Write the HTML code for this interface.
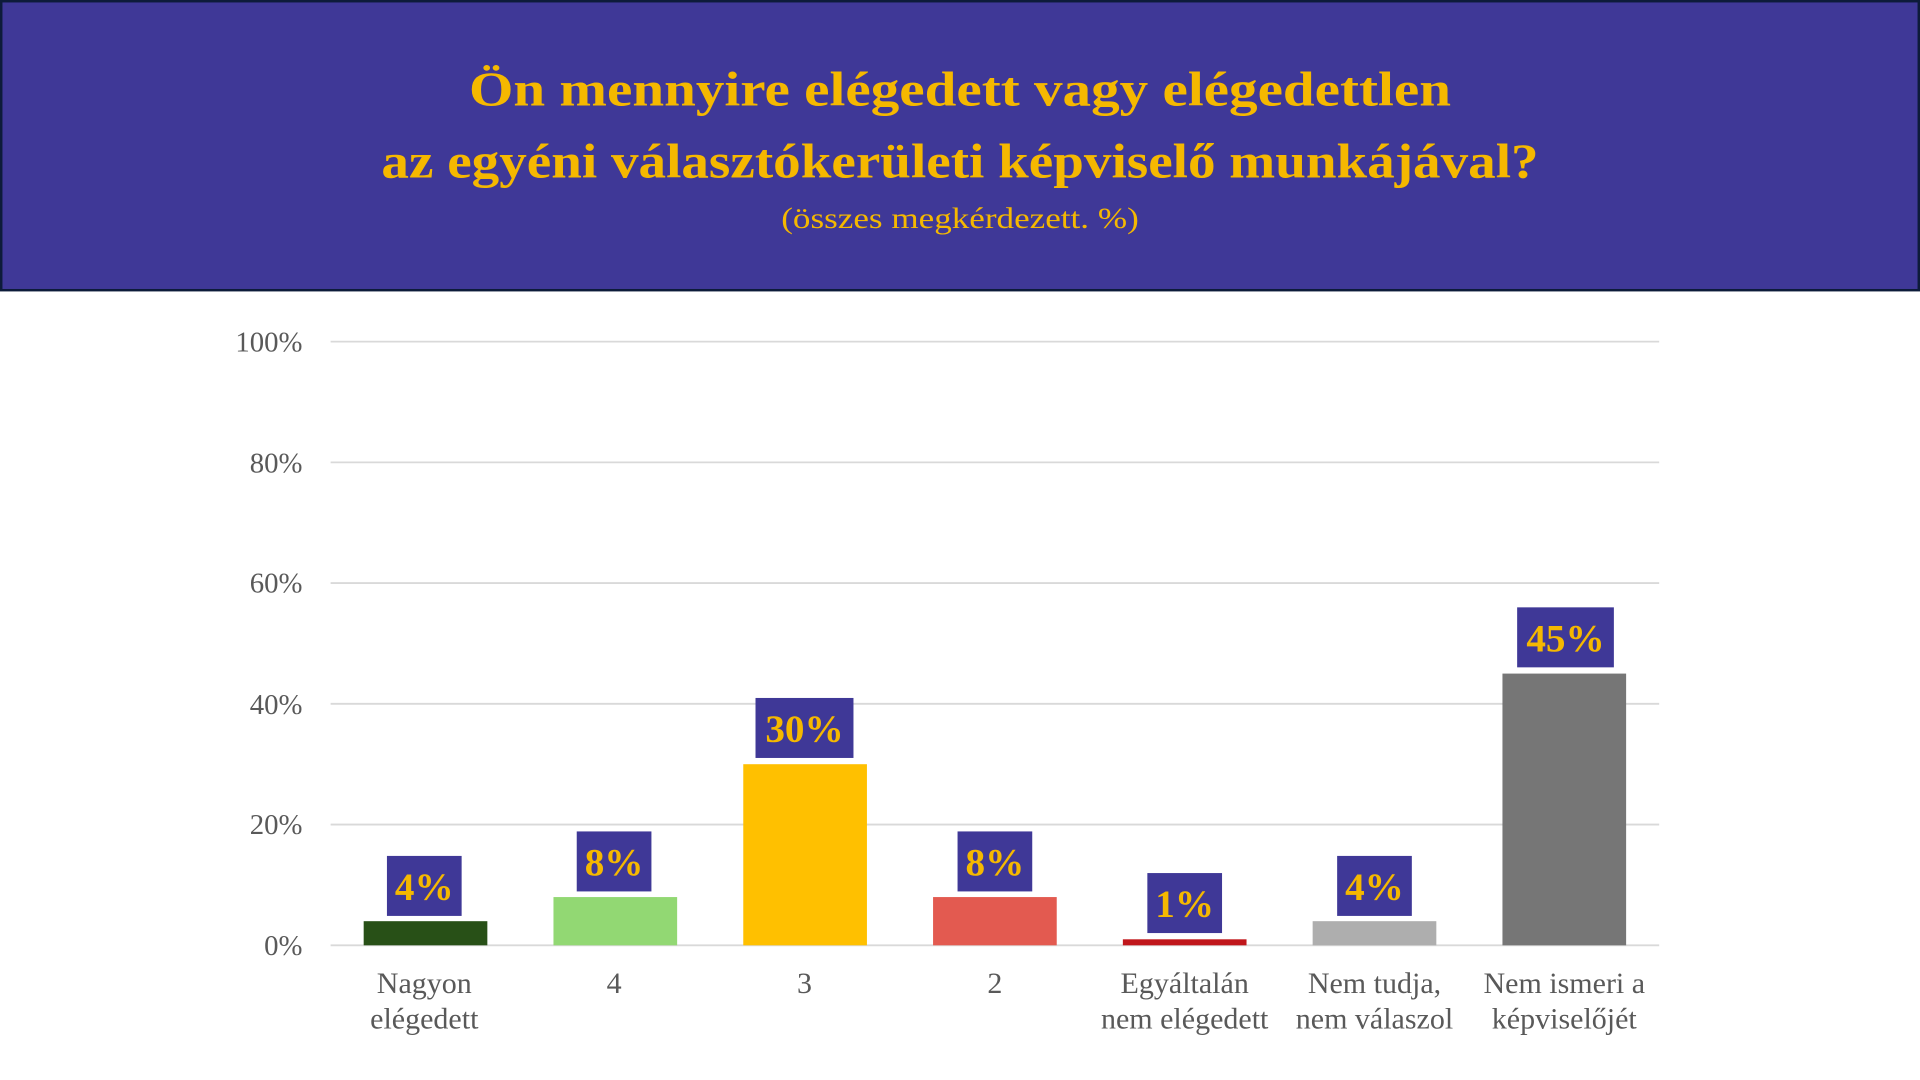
<!DOCTYPE html>
<html><head><meta charset="utf-8"><style>html,body{margin:0;padding:0;background:#fff;}svg{display:block}</style></head>
<body>
<svg width="1920" height="1080" viewBox="0 0 1568 882" xmlns="http://www.w3.org/2000/svg" font-family="'Liberation Serif', serif">
<rect x="0" y="0" width="1568" height="238" fill="#0d1b3a"/>
<rect x="2" y="2" width="1564" height="234" fill="#3f3897"/>
<text x="784" y="86" text-anchor="middle" font-size="40" font-weight="bold" fill="#f5b800" textLength="802" lengthAdjust="spacingAndGlyphs">Ön mennyire elégedett vagy elégedettlen</text>
<text x="784" y="145" text-anchor="middle" font-size="40" font-weight="bold" fill="#f5b800" textLength="945" lengthAdjust="spacingAndGlyphs">az egyéni választókerületi képviselő munkájával?</text>
<text x="784" y="186" text-anchor="middle" font-size="24" fill="#f5b800" textLength="292" lengthAdjust="spacingAndGlyphs">(összes megkérdezett. %)</text>
<g stroke="#d9d9d9" stroke-width="1.5">
<line x1="270" y1="279" x2="1355" y2="279"/>
<line x1="270" y1="377.6" x2="1355" y2="377.6"/>
<line x1="270" y1="476.2" x2="1355" y2="476.2"/>
<line x1="270" y1="574.8" x2="1355" y2="574.8"/>
<line x1="270" y1="673.4" x2="1355" y2="673.4"/>
<line x1="270" y1="772" x2="1355" y2="772"/>
</g>
<g font-size="23.5" fill="#595959" text-anchor="end">
<text x="247" y="287">100%</text>
<text x="247" y="386">80%</text>
<text x="247" y="484">60%</text>
<text x="247" y="583">40%</text>
<text x="247" y="681">20%</text>
<text x="247" y="780">0%</text>
</g>
<rect x="297" y="752.3" width="101" height="19.7" fill="#285017"/>
<rect x="452" y="732.6" width="101" height="39.4" fill="#92d873"/>
<rect x="607" y="624.1" width="101" height="147.9" fill="#ffc000"/>
<rect x="762" y="732.6" width="101" height="39.4" fill="#e35a50"/>
<rect x="917" y="767.1" width="101" height="4.9" fill="#c0161b"/>
<rect x="1072" y="752.3" width="101" height="19.7" fill="#aeaeae"/>
<rect x="1227" y="550.1" width="101" height="221.9" fill="#767676"/>
<g fill="#3f3897">
<rect x="316" y="699" width="61" height="49"/>
<rect x="471" y="679" width="61" height="49"/>
<rect x="617" y="570" width="80" height="49"/>
<rect x="782" y="679" width="61" height="49"/>
<rect x="937" y="713" width="61" height="49"/>
<rect x="1092" y="699" width="61" height="49"/>
<rect x="1239" y="496" width="79" height="49"/>
</g>
<g font-size="32" font-weight="bold" fill="#f5b800" text-anchor="middle">
<text x="346.5" y="735">4%</text>
<text x="501.5" y="715">8%</text>
<text x="657" y="606">30%</text>
<text x="812.5" y="715">8%</text>
<text x="967.5" y="749">1%</text>
<text x="1122.5" y="735">4%</text>
<text x="1278.5" y="532">45%</text>
</g>
<g font-size="24.5" fill="#595959" text-anchor="middle">
<text x="346.5" y="811">Nagyon</text><text x="346.5" y="840">elégedett</text>
<text x="501.5" y="811">4</text>
<text x="657" y="811">3</text>
<text x="812.5" y="811">2</text>
<text x="967.5" y="811">Egyáltalán</text><text x="967.5" y="840">nem elégedett</text>
<text x="1122.5" y="811">Nem tudja,</text><text x="1122.5" y="840">nem válaszol</text>
<text x="1277.5" y="811">Nem ismeri a</text><text x="1277.5" y="840">képviselőjét</text>
</g>
</svg>
</body></html>
